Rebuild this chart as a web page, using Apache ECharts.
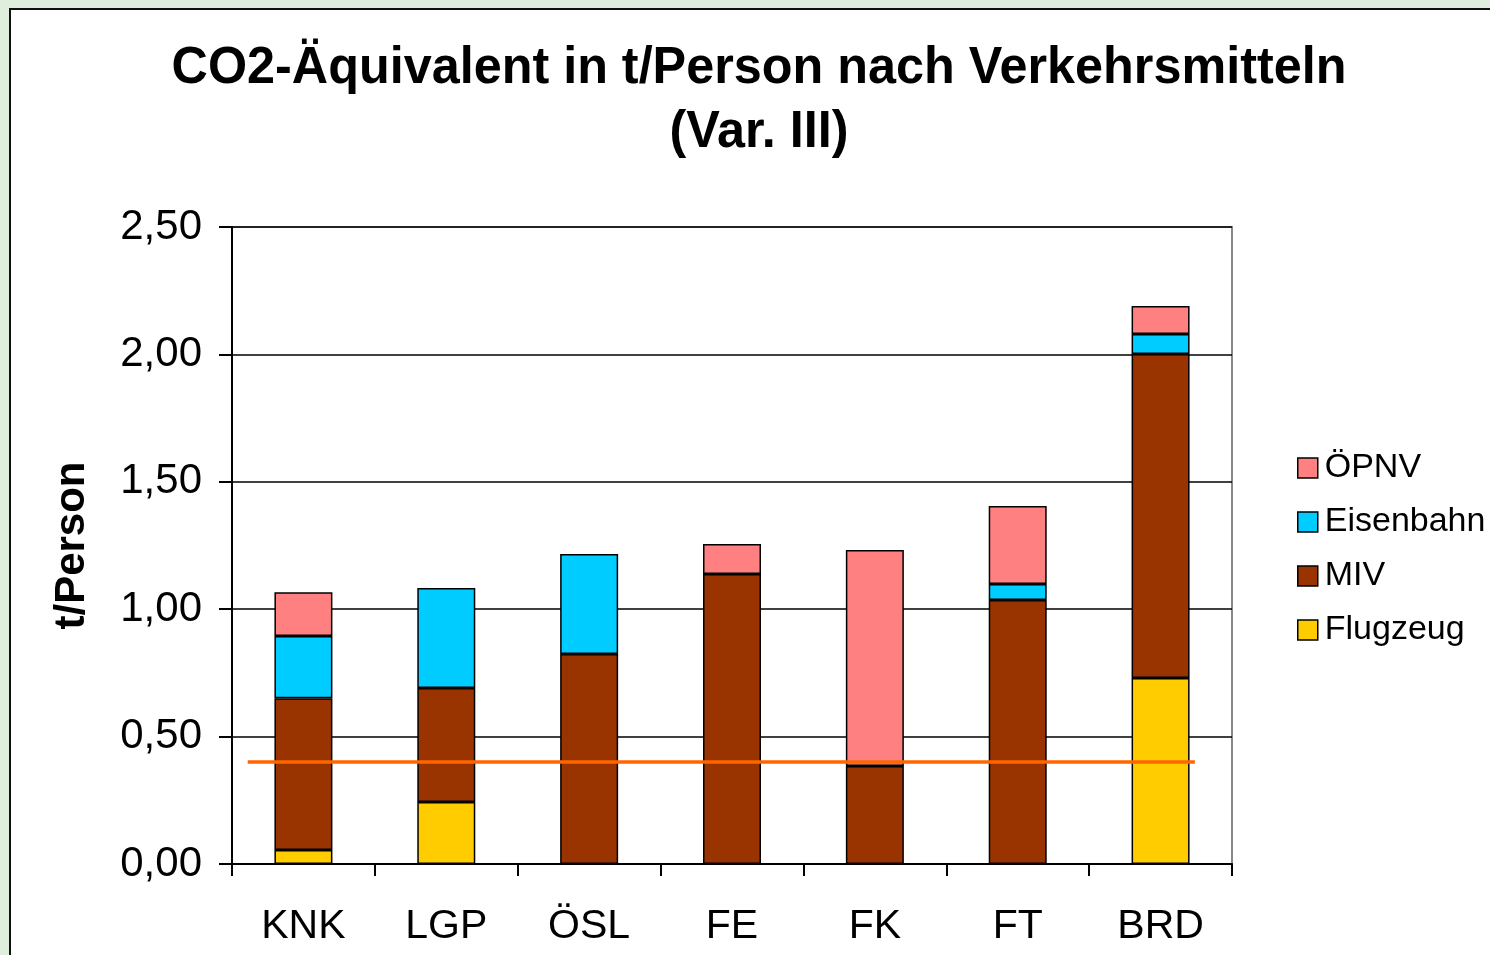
<!DOCTYPE html>
<html>
<head>
<meta charset="utf-8">
<script src="https://cdn.jsdelivr.net/npm/echarts@6/dist/echarts.min.js"></script>
<style>
  html, body { margin: 0; padding: 0; background: #dfeedd; overflow: hidden; }
  #frame { position: absolute; left: 9px; top: 8px; width: 1500px; height: 970px; background: #fff; border: 2px solid #111; }
  #chart { position: absolute; left: 0; top: 0; width: 1490px; height: 955px; }
</style>
</head>
<body>
<div id="frame"></div>
<div id="chart"></div>
<script>
// Kategorien (Gebiete)
const categories = ['KNK', 'LGP', 'ÖSL', 'FE', 'FK', 'FT', 'BRD'];
// Werte in t/Person, von unten nach oben gestapelt
const flugzeug  = [0.055, 0.243, 0, 0, 0, 0, 0.730];
const miv       = [0.596, 0.448, 0.824, 1.138, 0.385, 1.036, 1.272];
const eisenbahn = [0.244, 0.392, 0.393, 0, 0, 0.063, 0.078];
const oepnv     = [0.172, 0, 0, 0.118, 0.847, 0.306, 0.110];
// Referenzlinie (t/Person) und ihre Ausdehnung in Kategorie-Einheiten
const refLevel = 0.40;
const refSpan = [0.11, 6.74];
const yTicks = ['0,00', '0,50', '1,00', '1,50', '2,00', '2,50'];

const titleText = 'CO2-Äquivalent in t/Person nach Verkehrsmitteln\n(Var. III)';

const colors = {
  'ÖPNV': '#ff8080',
  'Eisenbahn': '#00ccff',
  'MIV': '#993300',
  'Flugzeug': '#ffcc00'
};

const chart = echarts.init(document.getElementById('chart'));

function barSeries(name, values) {
  return {
    name: name,
    type: 'bar',
    stack: 'total',
    barWidth: 58,
    data: values.map(v => (v === 0 ? '-' : v)),
    itemStyle: {
      color: colors[name],
      borderColor: '#000',
      borderWidth: 1.5
    },
    emphasis: { disabled: true }
  };
}

const option = {
  animation: false,
  textStyle: { fontFamily: 'Liberation Sans, Arial, sans-serif' },
  // Titel leicht schmal gezogen wie im Original
  graphic: [{
    type: 'text',
    x: 759,
    y: 37,
    scaleX: 0.968,
    silent: true,
    style: {
      text: titleText,
      align: 'center',
      verticalAlign: 'top',
      fontSize: 52,
      fontWeight: 'bold',
      fontFamily: 'Liberation Sans, Arial, sans-serif',
      lineHeight: 64,
      fill: '#000'
    }
  }],
  legend: {
    orient: 'vertical',
    left: 1292,
    top: 446,
    icon: 'rect',
    itemWidth: 20,
    itemHeight: 20,
    itemGap: 20,
    data: ['ÖPNV', 'Eisenbahn', 'MIV', 'Flugzeug'],
    itemStyle: { borderColor: '#000', borderWidth: 1.5 },
    textStyle: { fontSize: 34, color: '#000', padding: [0, 0, 0, 2] }
  },
  grid: {
    left: 232,
    top: 227,
    width: 1000,
    height: 637,
    show: true,
    borderColor: '#888',
    borderWidth: 2,
    backgroundColor: 'transparent'
  },
  xAxis: [
    {
      type: 'category',
      data: categories,
      axisLine: { lineStyle: { color: '#000', width: 2 } },
      axisTick: { show: true, length: 12, lineStyle: { color: '#000', width: 2 } },
      axisLabel: { fontSize: 41, color: '#000', margin: 42 }
    },
    {
      type: 'value',
      min: 0,
      max: categories.length,
      show: false
    }
  ],
  yAxis: {
    type: 'value',
    min: 0,
    max: 2.5,
    interval: 0.5,
    name: 't/Person',
    nameLocation: 'middle',
    nameRotate: 90,
    nameGap: 139,
    nameTextStyle: { fontSize: 42, fontWeight: 'bold', color: '#000' },
    axisLine: { show: true, lineStyle: { color: '#000', width: 2 } },
    axisTick: { show: true, length: 13, lineStyle: { color: '#000', width: 2 } },
    axisLabel: {
      fontSize: 42,
      color: '#000',
      margin: 30,
      formatter: (v) => yTicks[Math.round(v / 0.5)]
    },
    splitLine: { lineStyle: { color: '#000', width: 1.5 } }
  },
  series: [
    barSeries('Flugzeug', flugzeug),
    barSeries('MIV', miv),
    barSeries('Eisenbahn', eisenbahn),
    barSeries('ÖPNV', oepnv),
    {
      name: 'Referenz',
      type: 'line',
      xAxisIndex: 1,
      data: refSpan.map(x => [x, refLevel]),
      symbol: 'none',
      lineStyle: { color: '#ff6600', width: 3.5 },
      z: 5,
      silent: true
    }
  ]
};

chart.setOption(option);
</script>
</body>
</html>
